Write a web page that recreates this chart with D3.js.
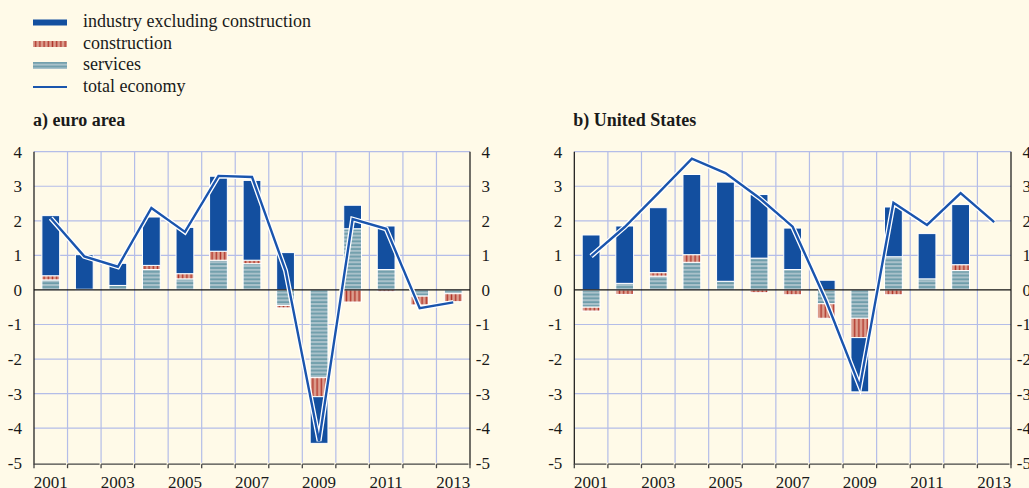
<!DOCTYPE html>
<html>
<head>
<meta charset="utf-8">
<script src="https://cdn.jsdelivr.net/npm/d3@7"></script>
<style>
  body { margin: 0; background: #fffae8; }
</style>
</head>
<body>
<svg id="chart" width="1029" height="488"></svg>
<script>
// Data (percentage points)
var years = [2001, 2002, 2003, 2004, 2005, 2006, 2007, 2008, 2009, 2010, 2011, 2012, 2013];
var yTicks = [4, 3, 2, 1, 0, -1, -2, -3, -4, -5];
var yearLabels = [2001, 2003, 2005, 2007, 2009, 2011, 2013];

// a) euro area
var industryA     = [1.74, 1.00, 0.64, 1.40, 1.34, 2.17, 2.31, 1.08, -1.35, 0.68, 1.26, -0.02, 0];
var constructionA = [0.12, -0.02, 0, 0.12, 0.15, 0.26, 0.10, -0.07, -0.55, -0.35, -0.05, -0.26, -0.23];
var servicesA     = [0.29, 0.02, 0.13, 0.59, 0.32, 0.86, 0.76, -0.45, -2.54, 1.77, 0.59, -0.18, -0.11];
var totalA        = [2.08, 0.97, 0.67, 2.37, 1.68, 3.30, 3.27, 0.56, -4.37, 2.05, 1.77, -0.53, -0.36];

// b) United States
var industryB     = [1.59, 1.66, 1.88, 2.32, 2.87, 1.84, 1.20, 0.28, -1.57, 1.44, 1.31, 1.74, 0];
var constructionB = [-0.11, -0.13, 0.10, 0.22, 0, -0.08, -0.14, -0.42, -0.56, -0.14, 0, 0.17, 0];
var servicesB     = [-0.50, 0.19, 0.40, 0.80, 0.25, 0.92, 0.59, -0.40, -0.82, 0.96, 0.32, 0.56, 0];
var totalB        = [0.98, 1.82, 2.80, 3.80, 3.38, 2.67, 1.83, -0.33, -2.80, 2.52, 1.88, 2.80, 1.96];

var legendItems = ["industry excluding construction", "construction", "services", "total economy"];

// Colours
var bg = "#fffae8";
var blue = "#134f9f";
var lineBlue = "#1a55ad";
var gridColor = "#b4bde8";
var serifFont = "'Liberation Serif'";

var svg = d3.select("#chart");
svg.append("rect").attr("width", 1029).attr("height", 488).attr("fill", bg);

// small helper so every label gets the serif face inline
function label(sel, x, y, txt, size) {
  return sel.append("text").attr("x", x).attr("y", y)
    .style("font-family", serifFont).attr("font-size", size || 17).attr("fill", "#1a1a1a").text(txt);
}

// patterns
var defs = svg.append("defs");
var pc = defs.append("pattern").attr("id", "constr").attr("patternUnits", "userSpaceOnUse")
  .attr("width", 4.2).attr("height", 10);
pc.append("rect").attr("width", 4.2).attr("height", 10).attr("fill", "#dc9e8e");
pc.append("rect").attr("x", 1.4).attr("width", 1.4).attr("height", 10).attr("fill", "#b0362c");

var ps = defs.append("pattern").attr("id", "serv").attr("patternUnits", "userSpaceOnUse")
  .attr("width", 10).attr("height", 3.8);
ps.append("rect").attr("width", 10).attr("height", 3.8).attr("fill", "#a9c1ca");
ps.append("rect").attr("y", 1.4).attr("width", 10).attr("height", 1.1).attr("fill", "#4b8797");

var fills = {services: "url(#serv)", construction: "url(#constr)", industry: blue};

// Legend
var legend = svg.append("g");
legendItems.forEach(function(name, i) {
  var base = 27 + i * 21.5;
  var cy = base - 4.5;
  if (i == 0) legend.append("rect").attr("x", 33).attr("y", cy - 3).attr("width", 34).attr("height", 6).attr("fill", blue);
  if (i == 1) legend.append("rect").attr("x", 33).attr("y", cy - 3).attr("width", 34).attr("height", 6).attr("fill", "url(#constr)");
  if (i == 2) legend.append("rect").attr("x", 33).attr("y", cy - 3.5).attr("width", 34).attr("height", 7).attr("fill", "url(#serv)");
  if (i == 3) legend.append("line").attr("x1", 33).attr("x2", 67).attr("y1", cy).attr("y2", cy)
    .attr("stroke", lineBlue).attr("stroke-width", 2);
  label(legend, 83, base, name, 18);
});

drawPanel("a) euro area", 34, 470, industryA, constructionA, servicesA, totalA);
drawPanel("b) United States", 574.3, 1011, industryB, constructionB, servicesB, totalB);

function drawPanel(title, x0, x1, industry, construction, services, total) {
  var g = svg.append("g");
  var x = d3.scaleBand().domain(years).range([x0, x1]).paddingInner(0);
  var y = d3.scaleLinear().domain([-5, 4]).range([462.7, 151.7]);

  label(g, x0 - 1, 126, title, 18).attr("font-weight", "bold");

  // grid
  g.selectAll(".hg").data(yTicks.filter(function(d){ return d != 0 && d != -5; })).enter().append("line")
    .attr("x1", x0).attr("x2", x1).attr("y1", function(d){ return y(d); }).attr("y2", function(d){ return y(d); })
    .attr("stroke", gridColor).attr("stroke-width", 1.2);
  g.selectAll(".vg").data(years.slice(1)).enter().append("line")
    .attr("x1", function(d){ return x(d); }).attr("x2", function(d){ return x(d); })
    .attr("y1", y(4)).attr("y2", y(-5))
    .attr("stroke", gridColor).attr("stroke-width", 1.2);

  // stacked bars
  var rows = years.map(function(yr, i) {
    return {year: yr, services: services[i], construction: construction[i], industry: industry[i]};
  });
  var stack = d3.stack().keys(["services", "construction", "industry"]).offset(d3.stackOffsetDiverging);
  var series = stack(rows);
  var bw = x.bandwidth() * 0.53;
  series.forEach(function(s) {
    g.selectAll(null).data(s.filter(function(d){ return Math.abs(d[1] - d[0]) > 0.001; })).enter().append("rect")
      .attr("x", function(d){ return x(d.data.year) + (x.bandwidth() - bw) / 2; })
      .attr("width", bw)
      .attr("y", function(d){ return y(Math.max(d[0], d[1])); })
      .attr("height", function(d){ return Math.abs(y(d[0]) - y(d[1])); })
      .attr("fill", fills[s.key])
      .attr("stroke", "#ffffff").attr("stroke-width", 1);
  });

  // zero line
  g.append("line").attr("x1", x0).attr("x2", x1).attr("y1", y(0)).attr("y2", y(0))
    .attr("stroke", "#111").attr("stroke-width", 1.3);

  // total economy line with white halo
  var pts = years.map(function(yr, i){ return [x(yr) + x.bandwidth() / 2, y(total[i])]; });
  var line = d3.line();
  g.append("path").attr("d", line(pts)).attr("fill", "none").attr("stroke", "#ffffff")
    .attr("stroke-width", 5).attr("stroke-linejoin", "miter");
  g.append("path").attr("d", line(pts)).attr("fill", "none").attr("stroke", lineBlue)
    .attr("stroke-width", 2.4).attr("stroke-linejoin", "miter");

  // side axes
  g.append("line").attr("x1", x0).attr("x2", x0).attr("y1", y(4)).attr("y2", y(-5) + 2).attr("stroke", "#111").attr("stroke-width", 1.2);
  g.append("line").attr("x1", x1).attr("x2", x1).attr("y1", y(4)).attr("y2", y(-5) + 2).attr("stroke", "#111").attr("stroke-width", 1.2);

  // bottom axis: segments with small ticks
  var bottom = y(-5) + 1.5;
  years.forEach(function(yr) {
    var a = x(yr);
    g.append("line").attr("x1", a).attr("x2", a + x.bandwidth() - 1.5).attr("y1", bottom).attr("y2", bottom)
      .attr("stroke", "#444").attr("stroke-width", 1.3);
    g.append("line").attr("x1", a).attr("x2", a).attr("y1", bottom).attr("y2", bottom + 4)
      .attr("stroke", "#444").attr("stroke-width", 1.3);
  });
  g.append("line").attr("x1", x1).attr("x2", x1).attr("y1", bottom).attr("y2", bottom + 4)
    .attr("stroke", "#444").attr("stroke-width", 1.3);

  // tick labels
  yTicks.forEach(function(t) {
    label(g, x0 - 12, y(t) + 6, t).attr("text-anchor", "end");
    label(g, x1 + 20, y(t) + 6, t).attr("text-anchor", "end");
  });
  yearLabels.forEach(function(yr) {
    label(g, x(yr) + x.bandwidth() / 2, 487.5, yr).attr("text-anchor", "middle");
  });
}
</script>
</body>
</html>
